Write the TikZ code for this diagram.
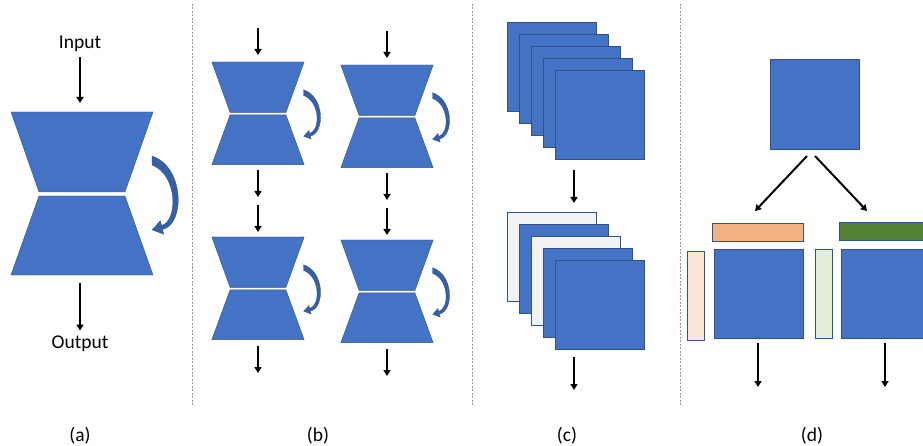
\documentclass[tikz,border=0pt]{standalone}
\usepackage{fontspec}
\setmainfont{Carlito}
\usetikzlibrary{arrows.meta}

\definecolor{panelblue}{HTML}{4472C4}
\definecolor{edgeblue}{HTML}{2F528F}
\definecolor{bendblue}{HTML}{3560A8}
\definecolor{paleface}{HTML}{F2F2F2}
\definecolor{orangebar}{HTML}{F4B183}
\definecolor{peachbar}{HTML}{FBE5D6}
\definecolor{greenbar}{HTML}{548235}
\definecolor{mintbar}{HTML}{E2F0D9}

\tikzset{
  flow/.style={line width=2pt, -{Triangle[length=6pt,width=7pt]}},
  skiparrow/.style={fill=bendblue, draw=edgeblue, line width=0.3pt},
  sep/.style={gray!80, line width=0.9pt, dash pattern=on 2pt off 1.5pt},
  sq/.style={draw=edgeblue, line width=0.6pt, fill=panelblue, inner sep=0pt,
             minimum width=89pt, minimum height=89pt, anchor=north west},
  bar/.style={draw=edgeblue, line width=0.6pt, inner sep=0pt, anchor=north west},
  txt/.style={font=\fontsize{19.5}{23}\selectfont}
}

% hourglass: centre x, top y, x scale, y scale
\newcommand{\hourglass}[4]{%
  \begin{scope}[shift={(#1,#2)}, xscale=#3, yscale=#4]
    \fill[panelblue, draw=edgeblue, line width=0.4pt]
      (-71,0) -- (71,0) -- (43,80) -- (-43,80) -- cycle;
    \fill[panelblue, draw=edgeblue, line width=0.4pt]
      (-43,84) -- (43,84) -- (71,163) -- (-71,163) -- cycle;
    % tapered skip arrow
    \filldraw[skiparrow] (70,44) .. controls (103,55) and (103,113) .. (80.5,117.5)
      -- (81.7,122.3) -- (70.3,117.9) -- (78.3,108.7) -- (79.5,113.5)
      .. controls (96,109) and (96,63) .. (70,53) -- cycle;
  \end{scope}}

\begin{document}
\begin{tikzpicture}[x=1pt, y=-1pt]
  \clip (0,0) rectangle (923,446);

  % separators
  \foreach \x in {192,472,680}{
    \draw[sep] (\x,4) -- (\x,405);
  }

  % (a) single hourglass
  \node[txt] (input) at (80,44) {Input};
  \node[txt] (output) at (80,344) {Output};
  \hourglass{82}{112}{1}{1}
  \draw[flow] (input.south) ++(0,2) -- (80,103);
  \draw[flow] (80,283) -- ([yshift=2pt]output.north);

  % (b) stacked hourglasses, two columns
  \foreach \cx/\dy in {258/0, 387/3}{
    \hourglass{\cx}{62+\dy}{0.65}{0.63}
    \hourglass{\cx}{237+\dy}{0.65}{0.63}
    \draw[flow] (\cx,28+\dy) -- (\cx,55+\dy);
    \draw[flow] (\cx,170+\dy) -- (\cx,197+\dy);
    \draw[flow] (\cx,205+\dy) -- (\cx,232+\dy);
    \draw[flow] (\cx,346+\dy) -- (\cx,373+\dy);
  }

  % (c) channel stacks
  \foreach \i in {0,...,4}{
    \node[sq] (top\i) at (507+12*\i,22+12*\i) {};
  }
  \foreach \i/\c in {0/paleface,1/panelblue,2/paleface,3/panelblue,4/panelblue}{
    \node[sq, fill=\c] (bot\i) at (507+12*\i,212+12*\i) {};
  }
  \coordinate (cMid) at (574,170);
  \coordinate (cEnd) at (574,357);
  \draw[flow] (cMid) -- (574,203);
  \draw[flow] (cEnd) -- (574,390);

  % (d) two attention branches
  \node[sq, minimum height=90pt] (dtop) at (770,59) {};
  \node[bar, fill=orangebar, minimum width=91pt, minimum height=18pt] (rowL) at (712,223) {};
  \node[bar, fill=peachbar, minimum width=17pt, minimum height=89pt] (colL) at (687,251) {};
  \node[sq] (mapL) at (714,249) {};
  \node[bar, fill=greenbar, minimum width=91pt, minimum height=18pt] (rowR) at (839,222) {};
  \node[bar, fill=mintbar, minimum width=17pt, minimum height=89pt] (colR) at (815,249) {};
  \node[sq] (mapR) at (841,249) {};
  \coordinate (outL) at (758,343);
  \coordinate (outR) at (885,343);
  \draw[flow] (807,156) -- (755,211);
  \draw[flow] (815,156) -- (867,211);
  \draw[flow] (outL) -- (758,387);
  \draw[flow] (outR) -- (885,387);

  % captions
  \node[txt] (capA) at (80,436) {(a)};
  \node[txt] (capB) at (318,436) {(b)};
  \node[txt] (capC) at (567,436) {(c)};
  \node[txt] (capD) at (812,436) {(d)};
\end{tikzpicture}
\end{document}
